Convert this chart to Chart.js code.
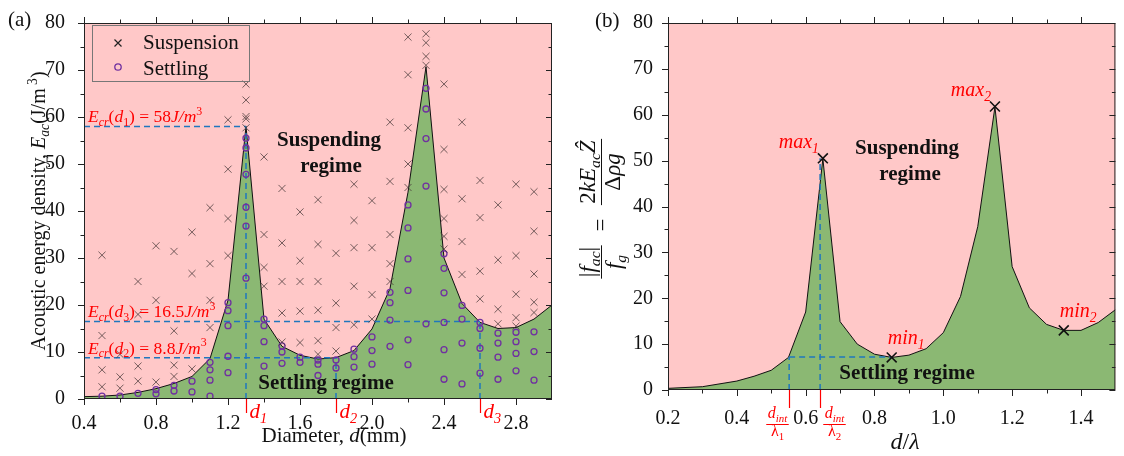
<!DOCTYPE html>
<html>
<head>
<meta charset="utf-8">
<script src="https://cdn.jsdelivr.net/npm/chart.js@4.4.1/dist/chart.umd.min.js"></script>
<style>
  body { margin: 0; background: #fff; }
  canvas { position: absolute; top: 0; }
</style>
</head>
<body>
<canvas id="chartA" width="570" height="456" style="left:0"></canvas>
<canvas id="chartB" width="554" height="456" style="left:570px"></canvas>
<script>
// ---- panel (a) data ----
const diameter = [0.4,0.5,0.6,0.7,0.8,0.9,1.0,1.1,1.2,1.3,1.4,1.5,1.6,1.7,1.8,1.9,2.0,2.1,2.2,2.3,2.4,2.5,2.6,2.7,2.8,2.9,3.0];
const ecrCurve = [0.5,0.6,0.85,1.4,2.2,3.3,4.8,8.6,21,58,17,11.2,9.3,8.5,8.8,10.3,14.9,23.5,44,70.7,30,20.3,16.3,15,15.2,17,20];
const suspCols = [0.5,0.6,0.7,0.8,0.9,1.0,1.1,1.2,1.3,1.4,1.5,1.6,1.7,1.8,1.9,2.0,2.1,2.2,2.3,2.4,2.5,2.6,2.7,2.8,2.9];
const suspByCol = [[30.6,13.5,6.2,2.6],[9.5,4.7,2.3],[25,18,7,3.8],[32.6,21,3.6],[31.4,14.5,7.2,4.8],[35.5,26.7,6.4],
  [40.7,28.8,21,15.2],[59.4,48.9,38.4,30.5],[67,63.6,60.1,59.6,57.7],[51.5,35,28,24],[44.8,33.2,25,18.3,12.1],
  [39.8,29.4,25,18.7,12],[42.4,32.9,25,18.9,12.4,9.5],[31,20.4,15.2,10.2],[45.7,38,32.2,24,15.8],[42.2,32.2,22.2,17],
  [58.9,46.3,35,28.8,25],[77,69,57.7,50,45],[77.7,75.8,72.9,71],[67,53.1,44.6,38.4,34.6,31.9],[58.9,42.6,33.5,26.5],
  [46.5,38.6,27.2,21.3],[41.3,29.6,19.1,16],[45.7,30.5,22.3,17.3,15.5],[44.1,35.7,26.6,20.6,18.4]];
const settleCols = suspCols;
const settleByCol = [[0.6],[0.6],[1.2],[2,1.1],[2.9,1.7],[3.8,1.5],[7.8,6.2,4,0.6],[20.5,18.8,15.6,9.1,5.6],
  [55.5,53.4,47.8,40.8,36.8,25.7],[17,15.6,12.2,7],[11.3,10,7.6],[8.9,7.8],[8.3,7.4,5],[8.3,6.6],[10.6,9,6.8],
  [13.2,10.3,7.4],[22.7,20.5,16.8,11.2],[41.3,36.4,29.8,23.1,12.6,7.3],[66.1,61.7,55.4,45.3,16],
  [30.9,27.8,22.6,16.3,10.5,4.2],[19.9,17,11.9,3.2],[16.3,15,10.8,5.5],[14,11.9,8.9,4.2],[14.2,12.2,9.7,6],[14.3,10.1,4]];
const critD = [1.3, 1.8, 2.6];         // d1, d2, d3
const critE = [58, 8.8, 16.5];         // Ecr(d1), Ecr(d2), Ecr(d3)
const critText = ['58', '8.8', '16.5'];
const xTicksA = [0.4,0.8,1.2,1.6,2.0,2.4,2.8];

// ---- panel (b) data ----
const ratio = [0.2,0.3,0.4,0.45,0.5,0.55,0.6,0.65,0.7,0.75,0.8,0.85,0.9,0.95,1.0,1.05,1.1,1.15,1.2,1.25,1.3,1.35,1.4,1.45,1.5];
const forceRatio = [0.36,0.72,1.95,3.0,4.3,7.1,17,50.4,14.9,10.0,7.8,7.1,7.6,9.0,12.5,20.4,35.6,61.7,26.9,17.9,14.3,13.0,13.0,14.7,17.5];
const extremaX = [0.65, 0.85, 1.15, 1.35];
const extremaY = [50.5, 7.1, 61.8, 13.0];
const extremaName = ['max', 'min', 'max', 'min'];
const extremaIdx = ['1', '1', '2', '2'];
const dIntRatio = [0.552, 0.642];
const dIntLevel = 7.2;
const xTicksB = [0.2,0.4,0.6,0.8,1.0,1.2,1.4];

const PINK = 'rgb(255,200,200)';
const GREEN = 'rgb(139,184,115)';
const BLUE = 'rgb(31,119,190)';
const RED = 'rgb(255,0,0)';
const SERIF = '"Liberation Serif", "Times New Roman", serif';
Chart.defaults.font.family = SERIF;

// rich text: parts = [text, kind]; n normal, i italic, b italic sub, bn sub, p sup, B bold
function fontOf(k, size) {
  const small = (k === 'b' || k === 'bn' || k === 'p');
  const s = small ? size * 0.68 : size;
  const it = (k === 'i' || k === 'b') ? 'italic ' : '';
  const bd = k === 'B' ? 'bold ' : '';
  return it + bd + s.toFixed(1) + 'px ' + SERIF;
}
function richWidth(ctx, parts, size) {
  let w = 0;
  parts.forEach(([t, k]) => { ctx.font = fontOf(k, size); w += ctx.measureText(t).width; });
  return w;
}
function rich(ctx, parts, x, y, size, align, color) {
  const w = richWidth(ctx, parts, size);
  let cx = align === 'center' ? x - w / 2 : align === 'right' ? x - w : x;
  ctx.fillStyle = color;
  ctx.textAlign = 'left';
  ctx.textBaseline = 'alphabetic';
  parts.forEach(([t, k]) => {
    ctx.font = fontOf(k, size);
    const dy = (k === 'b' || k === 'bn') ? size * 0.22 : k === 'p' ? -size * 0.42 : 0;
    ctx.fillText(t, cx, y + dy);
    cx += ctx.measureText(t).width;
  });
  return w;
}
// fraction centred at (0,0): bar at y=0
function frac(ctx, num, den, size, color, gapUp, gapDown) {
  const w = Math.max(richWidth(ctx, num, size), richWidth(ctx, den, size)) + 3;
  rich(ctx, num, 0, -gapUp, size, 'center', color);
  rich(ctx, den, 0, gapDown, size, 'center', color);
  ctx.strokeStyle = color;
  ctx.lineWidth = 1;
  ctx.beginPath(); ctx.moveTo(-w / 2, 0.5); ctx.lineTo(w / 2, 0.5); ctx.stroke();
}

function pts(cols, byCol) {
  const out = [];
  cols.forEach((c, i) => byCol[i].forEach(v => out.push({x: c, y: v})));
  return out;
}
function seg(x1, y1, x2, y2) {
  return {
    type: 'line', data: [{x: x1, y: y1}, {x: x2, y: y2}], borderColor: BLUE, borderWidth: 1.5,
    borderDash: [6, 4], pointRadius: 0, fill: false
  };
}

// background + frame + ticks
function framePlugin(majX) {
  return {
    id: 'frame',
    beforeDatasetsDraw(chart) {
      const {ctx, chartArea: a} = chart;
      ctx.save();
      ctx.fillStyle = PINK;
      ctx.fillRect(a.left, a.top, a.right - a.left, a.bottom - a.top);
      ctx.restore();
    },
    afterDatasetsDraw(chart) {
      const {ctx, chartArea: a, scales: {x, y}} = chart;
      ctx.save();
      ctx.strokeStyle = '#222';
      ctx.lineWidth = 1;
      ctx.strokeRect(a.left + 0.5, a.top + 0.5, a.right - a.left - 1, a.bottom - a.top - 1);
      ctx.beginPath();
      const step = majX[1] - majX[0];
      majX.forEach(v => {
        [[v, 6], [v + step / 2, 3.5]].forEach(([t, len]) => {
          const px = Math.round(x.getPixelForValue(t)) + 0.5;
          if (px > a.right) return;
          ctx.moveTo(px, a.bottom); ctx.lineTo(px, a.bottom + len);
          ctx.moveTo(px, a.top); ctx.lineTo(px, a.top - len);
        });
      });
      for (let v = 0; v <= 80; v += 5) {
        const len = v % 10 === 0 ? 6 : 3.5;
        const py = Math.round(y.getPixelForValue(v)) + 0.5;
        ctx.moveTo(a.left, py); ctx.lineTo(a.left - len, py);
        ctx.moveTo(a.right, py); ctx.lineTo(a.right - len, py);
      }
      ctx.stroke();
      ctx.restore();
    }
  };
}

const baseScales = (xmin, xmax, ticksArr, yWidth, xHeight, xPad, yPad) => ({
  x: {
    type: 'linear', min: xmin, max: xmax,
    grid: {display: false}, border: {display: false},
    ticks: {font: {family: SERIF, size: 20}, color: '#111', padding: xPad, maxRotation: 0, autoSkip: false,
      callback: v => Number(v).toFixed(1)},
    afterBuildTicks: s => { s.ticks = ticksArr.map(v => ({value: v})); },
    afterFit: s => { s.height = xHeight; }
  },
  y: {
    min: 0, max: 80,
    grid: {display: false}, border: {display: false},
    ticks: {stepSize: 10, font: {family: SERIF, size: 20}, color: '#111', padding: yPad},
    afterFit: s => { s.width = yWidth; }
  }
});

// ---------------- panel (a) ----------------
const annotA = {
  id: 'annotA',
  afterDraw(chart) {
    const {ctx, chartArea: a, scales: {x, y}} = chart;
    ctx.save();
    // critical markers below axis
    critD.forEach((d, i) => {
      const px = Math.round(x.getPixelForValue(d)) + 0.5;
      ctx.strokeStyle = RED; ctx.lineWidth = 1.2;
      ctx.beginPath(); ctx.moveTo(px, a.bottom); ctx.lineTo(px, a.bottom + 14); ctx.stroke();
      rich(ctx, [['d', 'i'], [String(i + 1), 'b']], px + 3, 418, 21, 'left', RED);
      rich(ctx, [['E', 'i'], ['cr', 'b'], ['(', 'n'], ['d', 'i'], [String(i + 1), 'bn'], [')', 'n'],
        [' = ' + critText[i], 'n'], ['J/m', 'i'], ['3', 'p']],
        a.left + 4, y.getPixelForValue(critE[i]) - 4, 17.5, 'left', RED);
    });
    // regime labels
    rich(ctx, [['Suspending', 'B']], 329, 146, 21, 'center', '#111');
    rich(ctx, [['regime', 'B']], 331, 172, 21, 'center', '#111');
    rich(ctx, [['Settling regime', 'B']], 326, 389, 21, 'center', '#111');
    // legend
    ctx.strokeStyle = '#777'; ctx.lineWidth = 1;
    ctx.strokeRect(92.5, 25.5, 157, 56);
    ctx.strokeStyle = '#222'; ctx.lineWidth = 1.2;
    ctx.beginPath();
    ctx.moveTo(114.5, 39.5); ctx.lineTo(121.5, 46.5);
    ctx.moveTo(121.5, 39.5); ctx.lineTo(114.5, 46.5);
    ctx.stroke();
    ctx.strokeStyle = 'rgb(112,48,160)'; ctx.lineWidth = 1.3;
    ctx.beginPath(); ctx.arc(118, 67, 3.2, 0, Math.PI * 2); ctx.stroke();
    rich(ctx, [['Suspension', 'n']], 143, 49, 21, 'left', '#111');
    rich(ctx, [['Settling', 'n']], 143, 75, 21, 'left', '#111');
    // axis titles
    rich(ctx, [['(a)', 'n']], 8, 26, 21, 'left', '#111');
    rich(ctx, [['Diameter, ', 'n'], ['d', 'i'], ['(mm)', 'n']], 334, 442, 21, 'center', '#111');
    ctx.translate(38, (a.top + a.bottom) / 2);
    ctx.rotate(-Math.PI / 2);
    rich(ctx, [['Acoustic energy density, ', 'n'], ['E', 'i'], ['ac', 'b'], ['(J/m', 'n'], [' 3', 'p'], [')', 'n']],
      0, 7, 20, 'center', '#111');
    ctx.restore();
  }
};

new Chart(document.getElementById('chartA'), {
  type: 'scatter',
  data: {
    datasets: [
      {label: 'Suspension', data: pts(suspCols, suspByCol), pointStyle: 'crossRot', pointRadius: 5,
        borderColor: 'rgba(70,55,55,0.75)', borderWidth: 1, backgroundColor: 'transparent'},
      {label: 'Settling', data: pts(settleCols, settleByCol), pointStyle: 'circle', pointRadius: 3,
        borderColor: 'rgb(112,48,160)', borderWidth: 1.3, backgroundColor: 'transparent'},
      seg(0.4, critE[0], critD[0], critE[0]),
      seg(critD[0], 0, critD[0], critE[0]),
      seg(0.4, critE[1], critD[1], critE[1]),
      seg(critD[1], 0, critD[1], critE[1]),
      seg(0.4, critE[2], critD[2], critE[2]),
      seg(critD[2], 0, critD[2], critE[2]),
      {type: 'line', label: 'Ecr', data: diameter.map((d, i) => ({x: d, y: ecrCurve[i]})),
        borderColor: '#111', borderWidth: 1, backgroundColor: GREEN, fill: 'origin', pointRadius: 0, tension: 0}
    ]
  },
  options: {
    responsive: false, animation: false,
    layout: {padding: {top: 20, right: 18, left: 0, bottom: 0}},
    plugins: {legend: {display: false}, tooltip: {enabled: false}},
    scales: baseScales(0.4, 3.0, xTicksA, 84, 57, 5, 11)
  },
  plugins: [framePlugin(xTicksA), annotA]
});

// ---------------- panel (b) ----------------
const OFF_B = 570; // canvas B starts here on the page
const annotB = {
  id: 'annotB',
  afterDraw(chart) {
    const {ctx, chartArea: a, scales: {x, y}} = chart;
    ctx.save();
    dIntRatio.forEach((d, i) => {
      const px = Math.round(x.getPixelForValue(d)) + 0.5;
      ctx.strokeStyle = RED; ctx.lineWidth = 1.2;
      ctx.beginPath(); ctx.moveTo(px, a.bottom); ctx.lineTo(px, a.bottom + 18); ctx.stroke();
      ctx.save();
      ctx.translate(i === 0 ? px - 12 : px + 14, 424);
      frac(ctx, [['d', 'i'], ['int', 'b']], [['λ', 'n'], [String(i + 1), 'bn']], 16, RED, 6, 12);
      ctx.restore();
    });
    extremaX.forEach((v, i) => {
      const px = x.getPixelForValue(v), py = y.getPixelForValue(extremaY[i]);
      const parts = [[extremaName[i], 'i'], [extremaIdx[i], 'b']];
      if (extremaName[i] === 'max') rich(ctx, parts, px - 4, py - 10, 20, 'right', RED);
      else rich(ctx, parts, px - 4, py - 13, 20, 'left', RED);
    });
    // fixed-position text, given in page coordinates
    ctx.translate(-OFF_B, 0);
    rich(ctx, [['Suspending', 'B']], 907, 154, 21, 'center', '#111');
    rich(ctx, [['regime', 'B']], 910, 180, 21, 'center', '#111');
    rich(ctx, [['Settling regime', 'B']], 907, 379, 21, 'center', '#111');
    rich(ctx, [['(b)', 'n']], 595, 27, 21, 'left', '#111');
    rich(ctx, [['d', 'i'], ['/', 'n'], ['λ', 'i']], 905, 449, 24, 'center', '#111');
    // y title formula (rotated)
    ctx.save();
    ctx.translate(601, 262); ctx.rotate(-Math.PI / 2);
    frac(ctx, [['|', 'n'], ['f', 'i'], ['ac', 'b'], ['|', 'n']], [['f', 'i'], ['g', 'b']], 23, '#111', 6, 20);
    ctx.restore();
    ctx.save();
    ctx.translate(601, 225); ctx.rotate(-Math.PI / 2);
    rich(ctx, [['=', 'n']], 0, 7, 23, 'center', '#111');
    ctx.restore();
    ctx.save();
    ctx.translate(601, 172); ctx.rotate(-Math.PI / 2);
    frac(ctx, [['2', 'n'], ['kE', 'i'], ['ac', 'b'], ['Ẑ', 'i']], [['Δ', 'n'], ['ρg', 'i']], 23, '#111', 6, 19);
    ctx.restore();
    ctx.restore();
  }
};

new Chart(document.getElementById('chartB'), {
  type: 'scatter',
  data: {
    datasets: [
      {label: 'extrema', data: extremaX.map((v, i) => ({x: v, y: extremaY[i]})), pointStyle: 'crossRot',
        pointRadius: 7, borderColor: '#111', borderWidth: 1.6, backgroundColor: 'transparent'},
      seg(dIntRatio[0], dIntLevel, extremaX[1], dIntLevel),
      seg(dIntRatio[0], 0, dIntRatio[0], dIntLevel),
      seg(dIntRatio[1], 0, dIntRatio[1], extremaY[0]),
      {type: 'line', label: 'force', data: ratio.map((d, i) => ({x: d, y: forceRatio[i]})),
        borderColor: '#111', borderWidth: 1, backgroundColor: GREEN, fill: 'origin', pointRadius: 0, tension: 0}
    ]
  },
  options: {
    responsive: false, animation: false,
    layout: {padding: {top: 23, right: 0, left: 0, bottom: 0}},
    plugins: {legend: {display: false}, tooltip: {enabled: false}},
    scales: baseScales(0.2, 1.5, xTicksB, 98, 66, 9, 7)
  },
  plugins: [framePlugin(xTicksB), annotB]
});
</script>
</body>
</html>
